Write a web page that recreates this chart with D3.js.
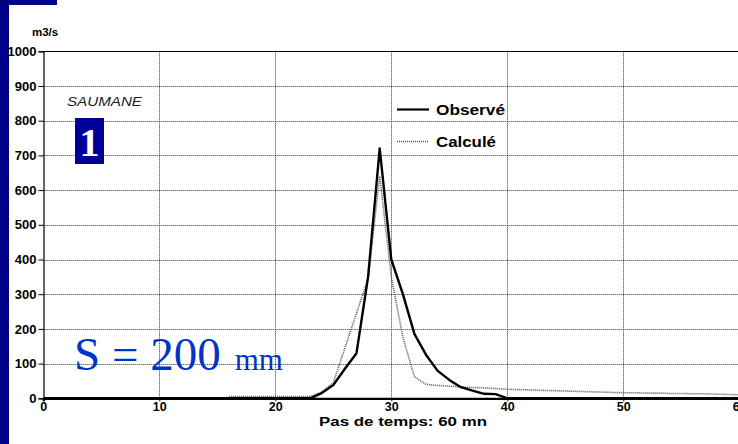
<!DOCTYPE html>
<html><head><meta charset="utf-8">
<script src="https://cdn.jsdelivr.net/npm/d3@7"></script>
<style>html,body{margin:0;padding:0;background:#fff;overflow:hidden}</style>
</head><body>
<svg id="chart" width="738" height="444"></svg>
<script>
const timeSteps = [0,1,2,3,4,5,6,7,8,9,10,11,12,13,14,15,16,17,18,19,20,21,22,23,24,25,26,27,28,29,30,31,32,33,34,35,36,37,38,39,40,41,42,43,44,45,46,47,48,49,50,51,52,53,54,55,56,57,58,59,60];
const observed = [0,0,0,0,0,0,0,0,0,0,0,0,0,0,0,0,0,0,0,0,0,0,0,0,15,38,85,130,350,720,400,300,185,125,79,53,32,22,13,12,0,0,0,0,0,0,0,0,0,0,0,0,0,0,0,0,0,0,0,0,0];
const calculated = [null,null,null,null,null,null,null,null,null,null,null,null,null,null,null,null,5,5,5,5,5,5,5,5,18,45,145,245,345,640,350,175,62,40,37,35,33,31,30,28,26,25,24,23,22,21,20,19,18,17,16,16,15,15,14,14,13,13,12,11,10];
const xTicks = [0,10,20,30,40,50,60];
const yTicks = [0,100,200,300,400,500,600,700,800,900,1000];
const seriesNames = ["Observé","Calculé"];
const stationName = "SAUMANE";
const panelNumber = "1";
const rainText = "S = 200";
const rainUnit = "mm";
const yTitle = "m3/s";
const xTitle = "Pas de temps: 60 mn";

const svg = d3.select("#chart");
const x = d3.scaleLinear().domain([0,60]).range([43.3,739.3]);
const y = d3.scaleLinear().domain([0,1000]).range([398.3,51.3]);
const sans = "'Liberation Sans', Arial, sans-serif";
const serif = "'Liberation Serif', 'Times New Roman', serif";

// slide background strips
svg.append("rect").attr("x",0).attr("y",0).attr("width",9).attr("height",444).attr("fill","#000088");
svg.append("rect").attr("x",0).attr("y",0).attr("width",57).attr("height",5).attr("fill","#000088");

// gridlines
const grid = svg.append("g");
grid.selectAll(".gy").data(yTicks.filter(d=>d>0 && d<1000)).join("line")
  .attr("x1",x(0)).attr("x2",x(60)).attr("y1",d=>Math.round(y(d))+0.5).attr("y2",d=>Math.round(y(d))+0.5)
  .attr("stroke","#333").attr("stroke-width",1).attr("stroke-dasharray","1,1");
grid.selectAll(".gx").data(xTicks.filter(d=>d>0)).join("line")
  .attr("y1",y(0)).attr("y2",y(1000)).attr("x1",d=>Math.round(x(d))+0.5).attr("x2",d=>Math.round(x(d))+0.5)
  .attr("stroke","#333").attr("stroke-width",1).attr("stroke-dasharray","1,1");

// top border
svg.append("line").attr("x1",x(0)).attr("x2",x(60)).attr("y1",Math.round(y(1000))+0.5).attr("y2",Math.round(y(1000))+0.5).attr("stroke","#000").attr("stroke-width",1);

// axes
const yAxis = d3.axisLeft(y).tickValues(yTicks).tickSize(5).tickPadding(2).tickFormat(d3.format("d"));
const gy = svg.append("g").attr("transform",`translate(${Math.round(x(0))+0.5},0)`).call(yAxis);
gy.select(".domain").attr("stroke","#000").attr("stroke-width",1.2);
gy.selectAll(".tick line").attr("stroke","#000");
gy.selectAll("text").attr("font-family",sans).attr("font-weight","bold").attr("font-size",13).attr("fill","#000");

const xAxis = d3.axisBottom(x).tickValues(xTicks).tickSize(3).tickPadding(1).tickFormat(d3.format("d"));
const gx = svg.append("g").attr("transform",`translate(0,${y(0)})`).call(xAxis);
gx.select(".domain").attr("stroke","#000").attr("stroke-width",2.2);
gx.selectAll(".tick line").attr("stroke","#000");
gx.selectAll("text").attr("font-family",sans).attr("font-weight","bold").attr("font-size",12.5).attr("fill","#000");

// axis titles
svg.append("text").attr("x",32).attr("y",36).text(yTitle)
  .attr("font-family",sans).attr("font-weight","bold").attr("font-size",11.5).attr("fill","#000");
svg.append("text").attr("x",319).attr("y",426).text(xTitle)
  .attr("font-family",sans).attr("font-weight","bold").attr("font-size",12)
  .attr("textLength",168).attr("lengthAdjust","spacingAndGlyphs").attr("fill","#000");

// series
svg.append("clipPath").attr("id","clip").append("rect")
  .attr("x",x(0)).attr("y",y(1000)).attr("width",x(60)-x(0)).attr("height",y(0)-y(1000)+2);
const plot = svg.append("g").attr("clip-path","url(#clip)");
const line = d3.line().defined(d=>d[1]!==null).x(d=>x(d[0])).y(d=>y(d[1]));
plot.append("path").datum(timeSteps.map((t,i)=>[t,calculated[i]]))
  .attr("d",line).attr("fill","none").attr("stroke","#555").attr("stroke-width",1.6).attr("stroke-dasharray","1,1");
plot.append("path").datum(timeSteps.map((t,i)=>[t,observed[i]]))
  .attr("d",line).attr("fill","none").attr("stroke","#000").attr("stroke-width",2.4).attr("stroke-linejoin","round");

// legend
const leg = svg.append("g");
leg.append("line").attr("x1",397).attr("x2",429).attr("y1",109.5).attr("y2",109.5).attr("stroke","#000").attr("stroke-width",2.2);
leg.append("line").attr("x1",397).attr("x2",429).attr("y1",141.5).attr("y2",141.5).attr("stroke","#555").attr("stroke-width",1.4).attr("stroke-dasharray","1,1");
const legLen = [69, 60];
leg.selectAll("text").data(seriesNames).join("text")
  .attr("x",436).attr("y",(d,i)=>115+i*32).text(d=>d)
  .attr("textLength",(d,i)=>legLen[i]).attr("lengthAdjust","spacingAndGlyphs")
  .attr("font-family",sans).attr("font-weight","bold").attr("font-size",14).attr("fill","#000");

// annotations
svg.append("text").attr("x",67).attr("y",106).text(stationName)
  .attr("textLength",75).attr("lengthAdjust","spacingAndGlyphs")
  .attr("font-family",sans).attr("font-style","italic").attr("font-size",12.5).attr("fill","#222");
svg.append("rect").attr("x",75).attr("y",118).attr("width",29).attr("height",46).attr("fill","#000099");
svg.append("text").attr("x",89.5).attr("y",156).attr("text-anchor","middle").text(panelNumber)
  .attr("font-family",serif).attr("font-weight","bold").attr("font-size",40).attr("fill","#fff");
const rt = svg.append("text").attr("x",74).attr("y",370).attr("font-family",serif).attr("fill","#0033cc");
rt.append("tspan").attr("font-size",47).text(rainText);
rt.append("tspan").attr("font-size",31).attr("dx",14).text(rainUnit);
</script>
</body></html>
